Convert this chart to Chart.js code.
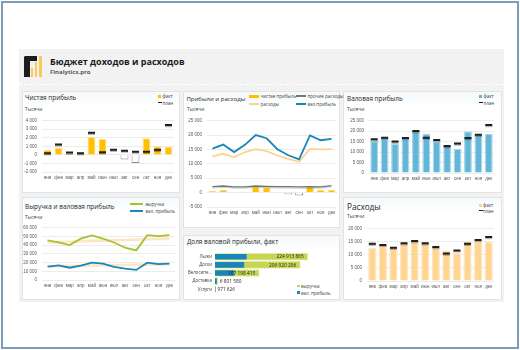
<!DOCTYPE html>
<html><head><meta charset="utf-8">
<script src="https://cdn.jsdelivr.net/npm/chart.js@4.4.1/dist/chart.umd.min.js"></script>
<style>
html,body{margin:0;padding:0;background:#fff;}
body{width:520px;height:350px;position:relative;overflow:hidden;font-family:'Open Sans','DejaVu Sans',sans-serif;color:#262626;}
.frame{position:absolute;left:1px;top:1px;width:514px;height:344px;border:2px solid #7e9bb7;}
.dash{position:absolute;left:19px;top:49px;width:485px;height:253px;background:#f2f2f2;}
.hdrline{position:absolute;left:19px;top:84px;width:485px;height:0;border-top:1px dashed #fff;}
.panel{position:absolute;background:linear-gradient(#f5fafc,#fff 16px);border:1px solid #e3e3e3;box-sizing:border-box;}
.t{position:absolute;white-space:nowrap;transform:translateY(-50%);line-height:1;}
.ttl{font-size:6.4px;color:#262626;}
.unit{font-size:4.8px;color:#404040;}
.lg{font-size:4.5px;color:#404040;}
.m{position:absolute;}
canvas{position:absolute;}
</style>
</head><body>
<div class="frame"></div>
<div class="dash"></div>
<div class="hdrline"></div>

<!-- logo -->
<div class="m" style="left:24px;top:55.5px;width:5.5px;height:21.5px;background:#1c1c1c;border-top-left-radius:2px;"></div>
<div class="m" style="left:24px;top:55.5px;width:13px;height:5px;background:#1c1c1c;border-top-left-radius:2px;"></div>
<div class="m" style="left:30.5px;top:67.5px;width:2.5px;height:9.5px;background:#fbc95a;"></div>
<div class="m" style="left:34.5px;top:62px;width:2.5px;height:15px;background:#fbc95a;"></div>
<div class="m" style="left:39.3px;top:55.7px;width:2.8px;height:21.3px;background:#fbc95a;"></div>
<div class="t" style="left:50px;top:61px;font-size:9px;font-weight:bold;color:#1a1a1a;">Бюджет доходов и расходов</div>
<div class="t" style="left:50px;top:72px;font-size:6px;font-weight:bold;color:#595959;">Finalytics.pro</div>

<!-- panels -->
<div class="panel" style="left:22px;top:91px;width:158px;height:102px;"></div>
<div class="panel" style="left:183px;top:91px;width:157px;height:137px;"></div>
<div class="panel" style="left:343px;top:91px;width:159px;height:102px;"></div>
<div class="panel" style="left:22px;top:197px;width:158px;height:103px;"></div>
<div class="panel" style="left:183px;top:235px;width:157px;height:65px;"></div>
<div class="panel" style="left:343px;top:197px;width:159px;height:103px;"></div>

<!-- titles -->
<div class="t ttl" style="left:25px;top:98px;">Чистая прибыль</div>
<div class="t unit" style="left:25px;top:109px;">Тысячи</div>
<div class="t ttl" style="left:186.5px;top:99px;font-size:6px;">Прибыли и расходы</div>
<div class="t unit" style="left:187px;top:109px;">Тысячи</div>
<div class="t ttl" style="left:347px;top:99px;">Валовая прибыль</div>
<div class="t unit" style="left:347px;top:109px;">Тысячи</div>
<div class="t ttl" style="left:25px;top:207px;">Выручка и валовая прибыль</div>
<div class="t unit" style="left:25px;top:217px;">Тысячи</div>
<div class="t ttl" style="left:187px;top:242px;">Доля валовой прибыли, факт</div>
<div class="t ttl" style="left:347px;top:207px;font-size:8.2px;">Расходы</div>
<div class="t unit" style="left:347px;top:216px;">Тысячи</div>

<!-- legends -->
<div class="m" style="left:158px;top:94.5px;width:3px;height:3px;background:#ffc000;"></div>
<div class="t lg" style="left:162.5px;top:96px;">факт</div>
<div class="m" style="left:157.5px;top:102px;width:4.5px;height:1.4px;background:#222;"></div>
<div class="t lg" style="left:162.5px;top:103px;">план</div>

<div class="m" style="left:479px;top:94.5px;width:3px;height:3px;background:#63b6d7;"></div>
<div class="t lg" style="left:483.5px;top:96px;">факт</div>
<div class="m" style="left:478.5px;top:101.5px;width:4.5px;height:1.4px;background:#222;"></div>
<div class="t lg" style="left:483.5px;top:102.5px;">план</div>

<div class="m" style="left:479px;top:203.5px;width:3px;height:3px;background:#ffd591;"></div>
<div class="t lg" style="left:483px;top:205px;">факт</div>
<div class="m" style="left:478.5px;top:209.5px;width:4.5px;height:1.4px;background:#222;"></div>
<div class="t lg" style="left:483px;top:210.5px;">план</div>

<div class="m" style="left:130px;top:203.2px;width:13px;height:1.6px;background:#a5c230;"></div>
<div class="t lg" style="left:145.5px;top:204px;">выручка</div>
<div class="m" style="left:130px;top:210.2px;width:13px;height:1.6px;background:#1a86b8;"></div>
<div class="t lg" style="left:145.5px;top:211px;">вал. прибыль</div>

<div class="m" style="left:248.5px;top:94.5px;width:10.5px;height:3px;background:#ffc000;"></div>
<div class="t lg" style="left:260.5px;top:96px;">чистая прибыль</div>
<div class="m" style="left:296px;top:95.3px;width:10px;height:1.3px;background:#6e7a6e;"></div>
<div class="t lg" style="left:307.5px;top:96px;">прочие расходы</div>
<div class="m" style="left:248.5px;top:103.2px;width:10.5px;height:1.6px;background:#fdd48e;"></div>
<div class="t lg" style="left:260.5px;top:104px;">расходы</div>
<div class="m" style="left:296px;top:103.2px;width:10px;height:1.6px;background:#1a86b8;"></div>
<div class="t lg" style="left:307.5px;top:104px;">вал.прибыль</div>

<div class="m" style="left:297px;top:284.5px;width:2.5px;height:2.5px;background:#c6d652;"></div>
<div class="t lg" style="left:301px;top:286px;">выручка</div>
<div class="m" style="left:297px;top:291.3px;width:2.5px;height:2.5px;background:#1a86b8;"></div>
<div class="t lg" style="left:301px;top:292.8px;">вал. прибыль</div>

<canvas id="c1" width="158" height="72" style="left:22px;top:113px;"></canvas>
<canvas id="c2" width="157" height="107" style="left:183px;top:113px;"></canvas>
<canvas id="c3" width="157" height="73" style="left:343px;top:113px;"></canvas>
<canvas id="c4" width="158" height="73" style="left:22px;top:220px;"></canvas>
<canvas id="c5" width="140" height="52" style="left:183px;top:247px;"></canvas>
<canvas id="c6" width="157" height="73" style="left:343px;top:221px;"></canvas>

<script>
// ---- data ----
const months = ['янв','фев','мар','апр','май','июн','июл','авг','сен','окт','ноя','дек'];
const netProfitFact = [580, 880, 150, 330, 2080, 1850, 120, -540, -960, 1960, 1000, 960];
const netProfitPlan = [200, 1230, 270, 180, 2580, 300, 600, 500, 380, 380, 600, 3500];
const grossProfitFact = [15300, 16700, 14100, 16600, 20000, 18900, 15100, 13000, 11600, 19900, 18200, 18700];
const grossProfitPlan = [16100, 16900, 15000, 16700, 20100, 16900, 15800, 12900, 14100, 16700, 18300, 22900];
const expensesFact = [12600, 13500, 12300, 14100, 15100, 14400, 12900, 11700, 10700, 15200, 15000, 15100];
const expensesPlan = [14200, 13800, 12700, 14400, 15300, 14400, 13000, 10500, 11700, 14200, 15700, 16800];
const otherExpenses = [2100, 2300, 2000, 2000, 2300, 2200, 2100, 2100, 2000, 2100, 2000, 2400];
const revenueFact = [45500, 43300, 40000, 47400, 51100, 47400, 43000, 37000, 34000, 51500, 50400, 51500];
const revenuePlan = [43000, 43600, 43900, 44400, 44900, 45300, 45500, 45900, 46300, 46800, 47200, 47500];
const grossProfitPlanLine = [15500, 15900, 16000, 16300, 16600, 16700, 16900, 17200, 17300, 17600, 17800, 18100];
const products = ['Лыжи','Доски','Велосипе...','Доставка','Услуги'];
const productRevenue = [224913865, 206920296, 107198415, 6801580, 971626];
const productGrossProfit = [76000000, 70000000, 46000000, 3500000, 400000];

// ---- helpers ----
const F = "'Open Sans','DejaVu Sans',sans-serif";
const TF = "'Liberation Sans',Arial,sans-serif";
const fmt = v => (v < 0 ? '-' : '') + Math.abs(Math.round(v)).toString().replace(/\B(?=(\d{3})+(?!\d))/g, ' ');

const shadowPlugin = {
  id: 'shadowP',
  beforeDatasetDraw(chart, args) {
    const ds = chart.data.datasets[args.index];
    if (ds.shadow) { const c = chart.ctx; c.save(); c.shadowColor = ds.shadow; c.shadowOffsetY = 1.2; c.shadowBlur = 0.6; }
  },
  afterDatasetDraw(chart, args) {
    const ds = chart.data.datasets[args.index];
    if (ds.shadow) chart.ctx.restore();
  }
};
Chart.register(shadowPlugin);

function axes(min, max, step, yW) {
  return {
    x: { grid: { display: false, drawTicks: false }, border: { display: false },
         ticks: { font: { size: 4.5, family: TF }, color: '#595959', padding: 3, autoSkip: false, maxRotation: 0, minRotation: 0 },
         afterFit: s => { s.height = 13; } },
    y: { min, max, grid: { color: '#e7e7e7', lineWidth: 0.8, drawTicks: false }, border: { display: false },
         ticks: { stepSize: step, autoSkip: false, font: { size: 4.5, family: TF }, color: '#595959', padding: 5, callback: v => fmt(v) },
         afterFit: s => { s.width = yW; } }
  };
}
function baseOpts(scales, padRight) {
  return { responsive: false, animation: false, maintainAspectRatio: false,
    layout: { padding: { top: 6, right: padRight, left: 0, bottom: 0 } },
    plugins: { legend: { display: false }, tooltip: { enabled: false } },
    scales };
}
function planDots(data) {
  return { type: 'line', data, showLine: false, pointStyle: 'line', pointRadius: 3.5,
    pointBorderWidth: 2, pointBorderColor: '#1f1f1f', borderColor: '#1f1f1f', order: 0, shadow: 'rgba(0,0,0,0.28)' };
}
const npBg = netProfitFact.map(v => v >= 0 ? '#ffc000' : '#ffffff');
const npBd = netProfitFact.map(v => v >= 0 ? '#ffe08c' : '#8c8c8c');

// Chart 1: Чистая прибыль
new Chart(document.getElementById('c1'), {
  type: 'bar',
  data: { labels: months, datasets: [
    { type: 'bar', data: netProfitFact, backgroundColor: npBg, borderColor: npBd, borderWidth: 1,
      barPercentage: 0.72, categoryPercentage: 1, order: 1 },
    planDots(netProfitPlan)
  ]},
  options: baseOpts(axes(-2000, 4000, 1000, 20), 3)
});

// Chart 2: Прибыли и расходы
new Chart(document.getElementById('c2'), {
  type: 'bar',
  data: { labels: months, datasets: [
    { type: 'bar', data: netProfitFact, backgroundColor: npBg, borderColor: npBd, borderWidth: 1,
      barPercentage: 0.72, categoryPercentage: 1, order: 5 },
    { type: 'line', data: otherExpenses, borderColor: '#6e7a6e', borderWidth: 1.3, pointRadius: 0, order: 3, shadow: 'rgba(0,0,0,0.18)' },
    { type: 'line', data: expensesFact, borderColor: '#fdd48e', borderWidth: 1.8, pointRadius: 0, order: 2 },
    { type: 'line', data: grossProfitFact, borderColor: '#1a86b8', borderWidth: 1.8, pointRadius: 0, order: 1 }
  ]},
  options: baseOpts(axes(-5000, 25000, 5000, 24), 3)
});

// Chart 3: Валовая прибыль
new Chart(document.getElementById('c3'), {
  type: 'bar',
  data: { labels: months, datasets: [
    { type: 'bar', data: grossProfitFact, backgroundColor: '#63b6d7', borderColor: '#a9d8ea', borderWidth: 1.2,
      barPercentage: 0.76, categoryPercentage: 1, order: 1 },
    planDots(grossProfitPlan)
  ]},
  options: baseOpts(axes(0, 25000, 5000, 26), 3)
});

// Chart 4: Выручка и валовая прибыль
new Chart(document.getElementById('c4'), {
  type: 'line',
  data: { labels: months, datasets: [
    { data: revenuePlan, borderColor: '#fce6c4', borderWidth: 2.6, pointRadius: 0, order: 4 },
    { data: grossProfitPlanLine, borderColor: '#fce6c4', borderWidth: 2.6, pointRadius: 0, order: 3 },
    { data: revenueFact, borderColor: '#a5c230', borderWidth: 1.8, pointRadius: 0, order: 2 },
    { data: grossProfitFact, borderColor: '#1a86b8', borderWidth: 1.8, pointRadius: 0, order: 1 }
  ]},
  options: (() => { const o = baseOpts(axes(0, 60000, 10000, 20), 5); o.scales.x.offset = true; return o; })()
});

// Chart 5: Доля валовой прибыли, факт
const barLabels = {
  id: 'barLabels',
  afterDatasetsDraw(chart) {
    const meta = chart.getDatasetMeta(1);
    const ctx = chart.ctx;
    ctx.save();
    ctx.font = '4.8px ' + F;
    ctx.fillStyle = '#262626';
    ctx.textBaseline = 'middle';
    meta.data.forEach((el, i) => {
      const txt = fmt(productRevenue[i]);
      const w = ctx.measureText(txt).width;
      const len = el.x - el.base;
      if (len > w + 8) { ctx.textAlign = 'right'; ctx.fillText(txt, el.x - 4, el.y + 0.3); }
      else { ctx.textAlign = 'left'; ctx.fillText(txt, el.x + 2, el.y + 0.3); }
    });
    ctx.restore();
  }
};
new Chart(document.getElementById('c5'), {
  type: 'bar',
  data: { labels: products, datasets: [
    { data: productGrossProfit, backgroundColor: '#1a86b8', borderColor: '#1a86b8', borderWidth: 0,
      barThickness: 5, grouped: false, order: 1 },
    { data: productRevenue, backgroundColor: '#c6d652', borderColor: '#e0eaa2', borderWidth: 1,
      barThickness: 7, grouped: false, order: 2 }
  ]},
  options: {
    indexAxis: 'y', responsive: false, animation: false, maintainAspectRatio: false,
    layout: { padding: { top: 0, right: 5, left: 0, bottom: 0 } },
    plugins: { legend: { display: false }, tooltip: { enabled: false } },
    scales: {
      x: { display: false, min: 0, max: 250000000 },
      y: { grid: { display: false, drawTicks: false }, border: { display: false },
           ticks: { font: { size: 4.4, family: F }, color: '#404040', padding: 3, autoSkip: false },
           afterFit: s => { s.width = 32; } }
    }
  },
  plugins: [barLabels]
});

// Chart 6: Расходы
new Chart(document.getElementById('c6'), {
  type: 'bar',
  data: { labels: months, datasets: [
    { type: 'bar', data: expensesFact, backgroundColor: '#ffd591', borderColor: '#ffe7c0', borderWidth: 1.2,
      barPercentage: 0.78, categoryPercentage: 1, order: 1 },
    planDots(expensesPlan)
  ]},
  options: baseOpts(axes(0, 20000, 5000, 24), 3)
});
</script>
</body></html>
